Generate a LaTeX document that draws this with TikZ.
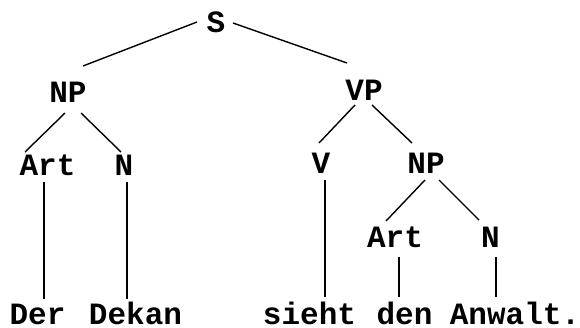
\documentclass[tikz,border=0pt]{standalone}
\usepackage{fontspec}
\setmainfont{Liberation Mono}
\usetikzlibrary{calc}
\begin{document}
\begin{tikzpicture}[x=1pt,y=-1pt,
  cat/.style={anchor=base,inner sep=0pt,font=\fontsize{31}{31}\selectfont\bfseries},
  word/.style={anchor=base,inner sep=0pt,font=\fontsize{31}{31}\selectfont\bfseries},
  branch/.style={line width=1.4pt,black}]
\useasboundingbox (0,0) rectangle (580,327);
% category labels
\node[cat] (S)    at (216,32)   {S};
\node[cat] (NPa)  at (68,102)   {NP};
\node[cat] (VP)   at (364,100)  {VP};
\node[cat] (ArtA) at (47.5,175) {Art};
\node[cat] (NA)   at (124,175)  {N};
\node[cat] (V)    at (321,173)  {V};
\node[cat] (NPb)  at (426,173)  {NP};
\node[cat] (ArtB) at (395,247)  {Art};
\node[cat] (NB)   at (490.5,247){N};
% terminal words
\node[word] (Der)    at (37.5,324)  {Der};
\node[word] (Dekan)  at (135.5,324) {Dekan};
\node[word] (sieht)  at (309.5,324) {sieht};
\node[word] (den)    at (404.5,324) {den};
\node[word] (Anwalt) at (515,324)   {Anwalt.};
% branches
\draw[branch] ($(S.base)+(-19,-10)$) -- ($(NPa.base)+(15,-36)$);
\draw[branch] ($(S.base)+(17,-9)$)   -- ($(VP.base)+(-17,-37)$);
\draw[branch] ($(NPa.base)+(-3,11)$) -- ($(ArtA.base)+(-22.5,-23)$);
\draw[branch] ($(NPa.base)+(13,11)$) -- ($(NA.base)+(-3,-23)$);
\draw[branch] ($(VP.base)+(-9,5)$)   -- ($(V.base)+(-2,-30)$);
\draw[branch] ($(VP.base)+(8,5)$)    -- ($(NPb.base)+(-14,-30)$);
\draw[branch] ($(NPb.base)+(-1,7)$)  -- ($(ArtB.base)+(-9,-26)$);
\draw[branch] ($(NPb.base)+(13,7)$)  -- ($(NB.base)+(-11.5,-27)$);
% lexical attachments
\draw[branch] ($(ArtA.base)+(-3.5,7)$) -- ($(ArtA.base |- Der.base)+(-3.5,-25)$);
\draw[branch] ($(NA.base)+(3,7)$)      -- ($(NA.base |- Dekan.base)+(3,-25)$);
\draw[branch] ($(V.base)+(4,7)$)       -- ($(V.base |- sieht.base)+(4,-27)$);
\draw[branch] ($(ArtB.base)+(4,10)$)   -- ($(ArtB.base |- den.base)+(4,-27)$);
\draw[branch] ($(NB.base)+(5.5,10)$)   -- ($(NB.base |- Anwalt.base)+(5.5,-27)$);
\end{tikzpicture}
\end{document}
